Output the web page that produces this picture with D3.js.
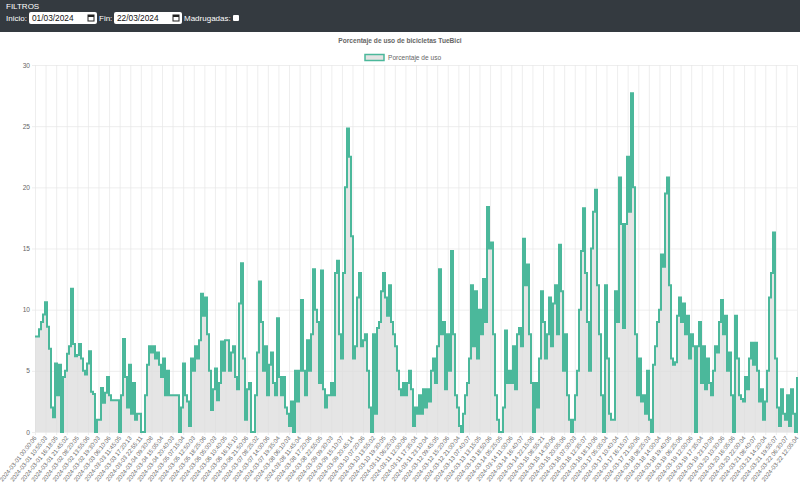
<!DOCTYPE html>
<html>
<head>
<meta charset="utf-8">
<script src="https://cdn.jsdelivr.net/npm/d3@7"></script>
<style>
  body { margin: 0; background: #fff; }
  svg { display: block; font-family: "Liberation Sans", Arial, sans-serif; }
</style>
</head>
<body>
<div id="chart"></div>
<script>
// Tick labels shown on the x axis (every n-th timestamp)
var tickLabels = [
    "2024-03-01 00:00:06", "2024-03-01 10:55:03", "2024-03-01 16:18:05", "2024-03-01 21:45:02",
    "2024-03-02 08:20:05", "2024-03-02 13:55:06", "2024-03-02 19:30:03", "2024-03-03 06:10:06",
    "2024-03-03 11:45:05", "2024-03-03 17:20:13", "2024-03-03 22:55:11", "2024-03-04 09:30:08",
    "2024-03-04 15:05:04", "2024-03-04 20:40:03", "2024-03-05 07:15:04", "2024-03-05 12:50:03",
    "2024-03-05 18:25:06", "2024-03-06 05:00:03", "2024-03-06 10:40:05", "2024-03-06 16:15:10",
    "2024-03-06 21:50:06", "2024-03-07 08:25:02", "2024-03-07 14:00:06", "2024-03-07 19:35:04",
    "2024-03-08 06:10:03", "2024-03-08 11:45:04", "2024-03-08 17:20:06", "2024-03-08 22:55:05",
    "2024-03-09 09:30:03", "2024-03-09 15:10:07", "2024-03-09 20:45:14", "2024-03-10 07:20:06",
    "2024-03-10 13:55:02", "2024-03-10 19:30:05", "2024-03-11 06:25:03", "2024-03-11 12:00:06",
    "2024-03-11 17:35:04", "2024-03-11 23:10:04", "2024-03-12 09:45:05", "2024-03-12 15:20:06",
    "2024-03-12 21:00:04", "2024-03-13 07:40:07", "2024-03-13 13:15:05", "2024-03-13 18:50:06",
    "2024-03-14 05:25:05", "2024-03-14 11:00:06", "2024-03-14 16:40:07", "2024-03-14 22:15:06",
    "2024-03-15 08:55:21", "2024-03-15 14:30:06", "2024-03-15 20:05:06", "2024-03-16 07:00:03",
    "2024-03-16 12:35:07", "2024-03-16 18:10:06", "2024-03-17 05:05:04", "2024-03-17 10:40:04",
    "2024-03-17 16:15:07", "2024-03-17 21:50:06", "2024-03-18 08:25:03", "2024-03-18 14:00:04",
    "2024-03-18 19:40:05", "2024-03-19 06:25:06", "2024-03-19 12:00:06", "2024-03-19 17:35:04",
    "2024-03-19 23:10:09", "2024-03-20 10:30:06", "2024-03-20 16:05:06", "2024-03-20 22:00:04",
    "2024-03-21 08:40:07", "2024-03-21 14:20:04", "2024-03-21 19:55:07", "2024-03-22 06:30:07",
    "2024-03-22 12:05:04"
];

var yTicks = [0, 5, 10, 15, 20, 25, 30];

// Porcentaje de uso (one value per sample)
var usage = [
    // 01/03 - 02/03
    7.8, 7.8, 8.4, 9.0, 9.6, 10.6, 8.6, 6.8, 2.0, 1.2, 5.6, 3.0, 5.5, 0.0, 4.5, 5.0,
    6.4, 7.0, 11.7, 7.2, 6.2, 6.3, 7.2, 6.0, 5.0, 4.7, 5.6, 6.6, 3.3, 3.1, 0.0,
    1.0, 1.0, 3.6, 2.4, 3.2, 4.5, 3.0, 2.6, 2.6, 2.6, 2.6, 0.0, 3.0, 7.6, 4.5, 2.0,
    5.5, 1.5, 4.0, 1.0, 1.5, 1.5, 0.0, 0.0,
    // 03/03 - 05/03
    3.0, 5.5, 7.0, 6.5, 7.0, 6.0, 6.5, 5.5, 4.5, 6.0, 3.0, 5.0, 3.0, 3.0, 3.0, 3.0,
    3.0, 0.0, 2.0, 5.6, 3.0, 2.5, 0.5, 6.0, 5.0, 7.0, 6.0, 7.5, 11.3, 9.5, 11.0, 8.0,
    5.0, 1.8, 3.5, 5.2, 2.6, 4.0, 7.4, 5.0, 7.5,
    // 05/03 - 11/03
    7.5, 5.0, 6.5, 7.0, 4.5, 3.5, 10.5, 13.8, 6.0, 1.0, 3.5, 4.0, 0.0, 0.0, 3.0, 6.5,
    12.3, 9.0, 5.0, 7.0, 3.0, 5.5, 6.5, 4.0, 3.0, 9.3, 4.5, 3.0, 4.5, 2.0, 1.5, 0.5,
    2.5, 0.0, 5.0, 2.5, 5.0, 10.8, 5.0, 3.0, 7.5, 5.0, 8.0, 13.3, 10.0, 9.0, 4.0, 13.2,
    3.5, 2.0, 3.0, 3.0, 4.0, 3.0, 13.0, 14.0, 8.0, 6.0, 13.0, 20.0, 24.8, 22.5, 16.0, 6.0,
    7.0, 11.0, 13.0, 7.0, 7.5, 8.0, 5.0, 2.0, 0.0, 8.0, 1.5, 8.5, 9.0, 11.5, 13.0, 11.0,
    9.5, 12.0, 9.0, 8.0, 7.0, 5.0, 3.5, 3.0, 4.0, 3.0, 4.0, 5.0, 3.5, 0.5, 2.0,
    // 11/03 - 16/03
    1.5, 3.0, 1.5, 3.5, 2.0, 3.5, 2.5, 5.0, 6.0, 4.0, 7.0, 13.3, 8.0, 9.0, 3.5, 8.0,
    5.0, 14.8, 8.0, 3.0, 2.0, 0.5, 0.0, 1.5, 3.0, 4.0, 6.0, 12.0, 7.0, 11.5, 6.0, 10.0,
    8.0, 12.5, 9.0, 18.4, 15.0, 15.5, 8.0, 3.0, 1.0, 0.0, 0.0, 2.0, 8.3, 4.0, 5.0, 4.0,
    7.0, 3.5, 8.0, 8.5, 7.0, 15.8, 12.0, 13.7, 8.0, 4.0, 0.0, 4.0, 2.0, 6.0, 11.5, 9.0,
    6.0, 8.0, 11.0, 7.0, 10.5, 12.0, 8.0, 15.3, 11.5, 5.0, 8.0, 3.0, 1.0, 0.0, 1.0, 3.0,
    5.0, 10.0, 14.8, 18.3, 13.0, 9.0, 5.0, 15.0, 18.0, 19.8, 12.0, 8.0, 3.0, 0.0,
    // 16/03 - 22/03
    12.0, 6.0, 1.5, 1.0, 1.0, 11.5, 9.0, 20.8, 17.0, 8.5, 17.0, 22.5, 18.0, 27.7, 20.0, 8.0,
    3.0, 6.0, 2.5, 3.0, 1.5, 5.0, 1.0, 0.0, 5.5, 7.0, 9.0, 10.0, 14.5, 13.5, 19.5, 20.8,
    12.0, 6.0, 5.5, 5.7, 9.5, 11.0, 9.0, 10.5, 8.0, 9.5, 6.0, 8.0, 7.0, 0.0, 7.0, 9.0,
    4.0, 7.0, 3.5, 6.0, 4.0, 3.0, 5.0, 7.0, 6.5, 9.0, 10.8, 8.0, 9.5, 5.0, 6.5, 3.0,
    0.0, 9.5, 6.0, 3.0, 2.7, 2.5, 4.5, 3.5, 6.0, 7.3, 5.5, 7.3, 5.0, 2.5, 3.5, 1.0,
    2.5, 5.0, 11.0, 13.0, 16.3, 6.0, 2.0, 0.5, 3.5, 1.5, 1.0, 3.0, 0.5, 3.5, 1.5, 0.0,
    4.5
];

var svgWidth = 800;
var svgHeight = 492;

var margin = { top: 65, right: 3, bottom: 60, left: 35 };
var width = svgWidth - margin.left - margin.right;
var height = svgHeight - margin.top - margin.bottom;

var lineColor = "#4bb89b";
var textColor = "#666";

var svg = d3.select("#chart")
    .append("svg")
    .attr("width", svgWidth)
    .attr("height", svgHeight);

// ---- Filter bar ----
svg.append("rect")
    .attr("width", svgWidth)
    .attr("height", 32)
    .attr("fill", "#343a40");

svg.append("text")
    .attr("x", 6).attr("y", 9)
    .attr("fill", "#fff")
    .style("font-size", "8px")
    .text("FILTROS");

function addLabel(x, txt) {
    svg.append("text")
        .attr("x", x).attr("y", 21)
        .attr("fill", "#fff")
        .style("font-size", "8px")
        .text(txt);
}

function addDateInput(x, w, txt) {
    svg.append("rect")
        .attr("x", x).attr("y", 12)
        .attr("width", w).attr("height", 12)
        .attr("rx", 2)
        .attr("fill", "#fff");
    svg.append("text")
        .attr("x", x + 3).attr("y", 21)
        .attr("fill", "#111")
        .style("font-size", "8.3px")
        .text(txt);
    // calendar icon
    var ix = x + w - 9;
    svg.append("rect")
        .attr("x", ix).attr("y", 15)
        .attr("width", 6).attr("height", 6)
        .attr("fill", "none")
        .attr("stroke", "#222")
        .attr("stroke-width", 1);
    svg.append("rect")
        .attr("x", ix).attr("y", 15)
        .attr("width", 6).attr("height", 2)
        .attr("fill", "#222");
}

addLabel(6, "Inicio:");
addDateInput(29, 68, "01/03/2024");
addLabel(99, "Fin:");
addDateInput(114, 68, "22/03/2024");
addLabel(184, "Madrugadas:");
svg.append("rect")
    .attr("x", 233).attr("y", 15)
    .attr("width", 6).attr("height", 6)
    .attr("rx", 1)
    .attr("fill", "#fff");

// ---- Title and legend ----
svg.append("text")
    .attr("x", 400).attr("y", 43)
    .attr("text-anchor", "middle")
    .attr("fill", textColor)
    .style("font-size", "6.6px")
    .style("font-weight", "bold")
    .text("Porcentaje de uso de bicicletas TueBici");

svg.append("rect")
    .attr("x", 365).attr("y", 54.5)
    .attr("width", 19).attr("height", 6)
    .attr("fill", "#e3e3e3")
    .attr("stroke", lineColor)
    .attr("stroke-width", 1.5);

svg.append("text")
    .attr("x", 388).attr("y", 60)
    .attr("fill", textColor)
    .style("font-size", "6.6px")
    .text("Porcentaje de uso");

// ---- Chart ----
var chartGroup = svg.append("g")
    .attr("transform", `translate(${margin.left},${margin.top})`);

var xLinearScale = d3.scaleLinear()
    .domain([0, usage.length - 1])
    .range([0, width]);

var xTickScale = d3.scalePoint()
    .domain(tickLabels)
    .range([0, width]);

var yLinearScale = d3.scaleLinear()
    .domain([0, 30])
    .range([height, 0]);

// grid lines
chartGroup.append("g")
    .attr("class", "grid")
    .call(d3.axisLeft(yLinearScale).tickValues(yTicks).tickSize(-width - 3).tickFormat(""))
    .attr("transform", "translate(-3,0)")
    .call(g => g.select(".domain").remove())
    .call(g => g.selectAll("line").attr("stroke", "#e6e6e6").attr("stroke-width", 0.7));

chartGroup.append("g")
    .attr("class", "grid")
    .attr("transform", `translate(0,${height + 3})`)
    .call(d3.axisBottom(xTickScale).tickSize(-height - 3).tickFormat(""))
    .call(g => g.select(".domain").remove())
    .call(g => g.selectAll("line").attr("stroke", "#e6e6e6").attr("stroke-width", 0.7));

// area + stepped line
var area = d3.area()
    .x((d, i) => xLinearScale(i))
    .y0(height)
    .y1(d => yLinearScale(d))
    .curve(d3.curveStepAfter);

var line = d3.line()
    .x((d, i) => xLinearScale(i))
    .y(d => yLinearScale(d))
    .curve(d3.curveStepAfter);

chartGroup.append("path")
    .datum(usage)
    .attr("d", area)
    .attr("fill", "#dcdcdc")
    .attr("fill-opacity", 0.75);

chartGroup.append("path")
    .datum(usage)
    .attr("d", line)
    .attr("fill", "none")
    .attr("stroke", lineColor)
    .attr("stroke-width", 2)
    .attr("stroke-linejoin", "miter");

// y axis labels
var leftAxis = d3.axisLeft(yLinearScale).tickValues(yTicks).tickSize(0).tickPadding(5);
chartGroup.append("g")
    .call(leftAxis)
    .call(g => g.select(".domain").remove())
    .call(g => g.selectAll("text")
        .attr("fill", textColor)
        .style("font-size", "6.6px")
        .style("font-family", "'Liberation Sans', Arial, sans-serif"));

// x axis labels
var bottomAxis = d3.axisBottom(xTickScale).tickSize(0).tickPadding(0);
chartGroup.append("g")
    .attr("transform", `translate(0,${height})`)
    .call(bottomAxis)
    .call(g => g.select(".domain").remove())
    .call(g => g.selectAll("text")
        .attr("fill", textColor)
        .attr("text-anchor", "end")
        .attr("dy", "0.3em")
        .attr("transform", "translate(0,5) rotate(-52)")
        .style("font-size", "6px")
        .style("font-family", "'Liberation Sans', Arial, sans-serif"));
</script>
</body>
</html>
